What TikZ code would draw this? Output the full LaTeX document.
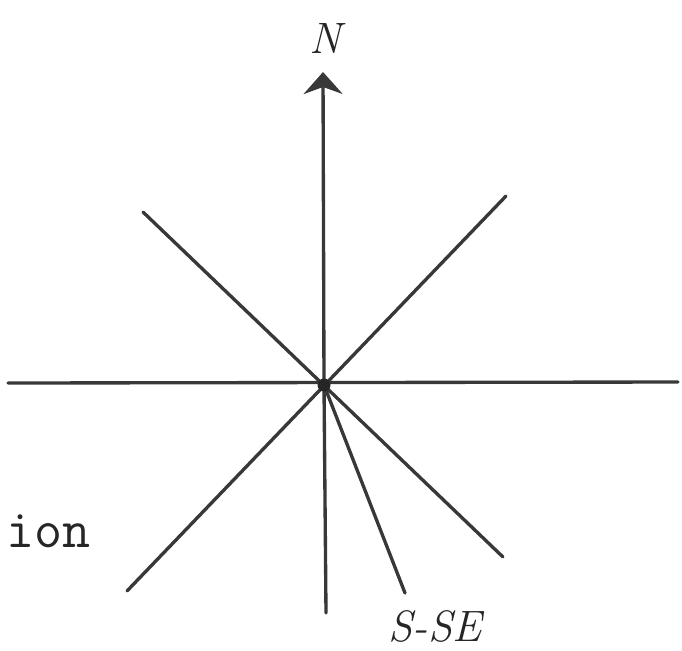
\documentclass[tikz,border=0pt]{standalone}
\usetikzlibrary{arrows.meta}

\begin{document}
\begin{tikzpicture}[
    x=0.02cm, y=-0.02cm,
    raggio/.style={draw=black!78, line width=1.9pt, line cap=round},
    freccia/.style={raggio, -{Stealth[length=0.44cm, width=0.78cm, inset=0.14cm]}},
    punto/.style={circle, fill=black!85, inner sep=0pt, minimum size=0.26cm},
    mano/.style={font=\fontsize{25}{29}\selectfont\itshape, text=black!85, inner sep=0pt},
    testo/.style={font=\ttfamily\fontsize{31}{34}\selectfont, text=black!85, inner sep=0pt, anchor=base west}
]
    \useasboundingbox (0,0) rectangle (682,650);

    % 1. Centro e punti estremi dei raggi
    \coordinate (O)   at (324,385);
    \coordinate (Nord)  at (323,72);
    \coordinate (Sud)   at (326,613);
    \coordinate (Ovest) at (8,383);
    \coordinate (Est)   at (678,382);
    \coordinate (NO)  at (143,212);
    \coordinate (SE)  at (503,557);
    \coordinate (NE)  at (506,196);
    \coordinate (SO)  at (127,591);
    \coordinate (SSE) at (405,593);

    % 2. Raggi della rosa
    \draw[freccia] (O) -- (Nord);
    \draw[raggio] (O) -- (Sud);
    \draw[raggio] (Ovest) -- (Est);
    \draw[raggio] (NO) -- (SE);
    \draw[raggio] (SO) -- (NE);
    \draw[raggio] (O) -- (SSE);
    \node[punto] (centro) at (O) {};

    % 3. Etichette
    \node[mano] (etN)   at (325,38)  {N};
    \node[mano] (etSSE) at (435,626) {S-SE};
    \node[testo] (ion) at (6,547) {ion};

\end{tikzpicture}
\end{document}
